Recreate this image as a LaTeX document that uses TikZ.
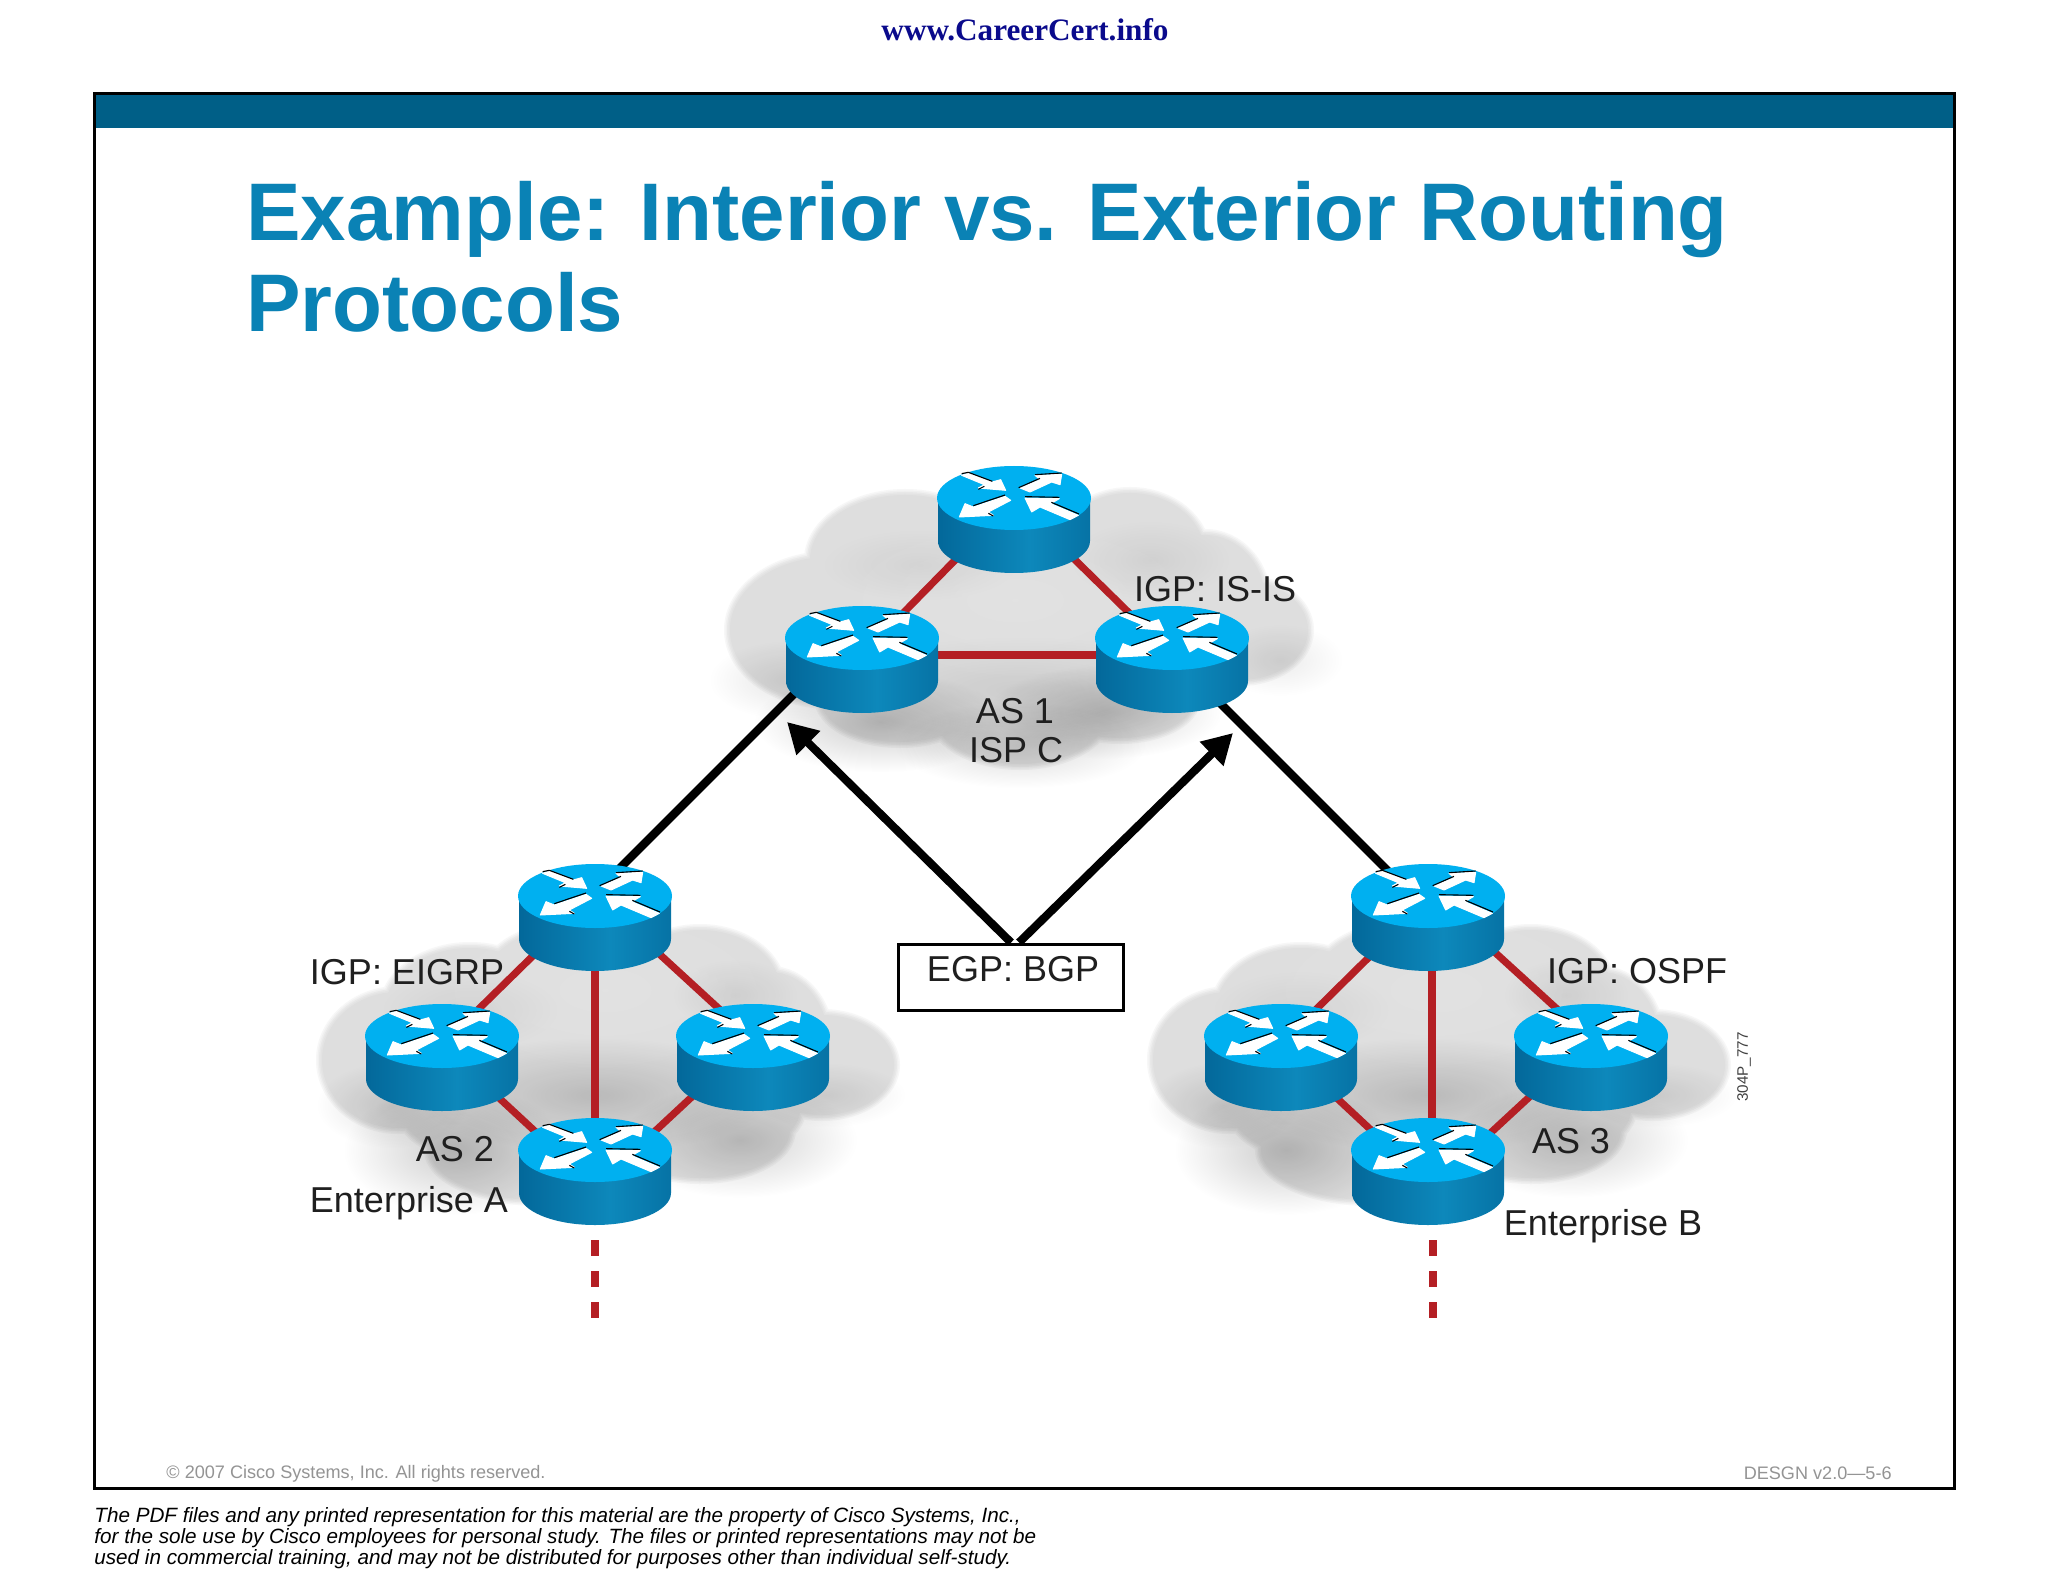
\documentclass[tikz,border=0pt]{standalone}
\usepackage{fontspec}
\setmainfont{Liberation Sans}
\newfontfamily\serifhead{Liberation Serif}
\usetikzlibrary{arrows.meta,fadings}
\definecolor{bandblue}{HTML}{005F87}
\definecolor{titleblue}{HTML}{0A82B5}
\definecolor{headnavy}{HTML}{0A0A8C}
\definecolor{linkred}{HTML}{B41F24}
\definecolor{rtop}{HTML}{00B0F0}
\definecolor{rbA}{HTML}{0C7DAE}
\definecolor{rbB}{HTML}{03689A}
\definecolor{rbC}{HTML}{0D88BB}
\definecolor{rbD}{HTML}{0672A4}
\pgfdeclarehorizontalshading{routerbody}{100bp}{color(0bp)=(rbA);color(25bp)=(rbB);color(55bp)=(rbC);color(85bp)=(rbB);color(100bp)=(rbD)}
\tikzfading[name=softr,inner color=transparent!0,outer color=transparent!100]
\tikzset{
  redlink/.style={draw=linkred,line width=3.6pt},
  reddash/.style={draw=linkred,line width=3.8pt,dash pattern=on 8pt off 7.5pt},
  blacklink/.style={draw=black,line width=4.1pt},
  blackarrow/.style={draw=black,line width=4.1pt,-{Triangle[length=15pt,width=16pt]}},
  lab/.style={font=\fontsize{18}{20}\selectfont,text=black!88,inner sep=0pt,anchor=center},
  small/.style={font=\fontsize{9.05}{11}\selectfont,text=black!42,inner sep=0pt},
  foot/.style={font=\fontsize{10.34}{10.6}\selectfont\itshape,inner sep=0pt,anchor=north west,align=left},
}
\newcommand{\arrowshape}[2]{\filldraw[white,line width=.5pt,line join=round] #1 -- cycle; \draw[black,line width=.55pt] #2;}
\newcommand{\router}[2]{%
  \begin{scope}[shift={(#1,#2+32)}]
    \path[shading=routerbody] (-76,0) -- (-76,43) arc[start angle=180,end angle=0,x radius=76,y radius=32] -- (76,0) -- cycle;
    \fill[rtop] (0,0) ellipse[x radius=77,y radius=32];
    \begin{scope}[xscale=1/3,yscale=1/3,shift={(-272,-143)}]
      \arrowshape{(135,68) -- (207,95) -- (232,88) -- (247,120) -- (165,113) -- (183,103) -- (115,75)}{(115,70) -- (135,66) -- (207,93) (165,117) -- (183,108)}
      \arrowshape{(290,113) -- (350,88) -- (335,75) -- (415,72) -- (410,103) -- (385,95) -- (320,125)}{(286,112) -- (350,84) (335,73) -- (415,68)}
      \arrowshape{(245,138) -- (150,170) -- (125,160) -- (108,200) -- (210,195) -- (195,185) -- (262,150)}{(150,166) -- (245,134) (195,189) -- (210,197)}
      \arrowshape{(305,143) -- (408,145) -- (382,160) -- (465,195) -- (440,208) -- (350,170) -- (325,185)}{(305,139) -- (408,141) (384,156) -- (467,191)}
    \end{scope}
  \end{scope}}
\newcommand{\cloudbase}[1]{%
  \foreach \w/\g in {12/3,9/6,6/9,3/11}{%
    \foreach \c/\d/\a/\b in {#1}{\draw[black!\g!white,line width=\w*0.5pt,fill=black!\g!white] (\c,\d) ellipse[x radius=\a,y radius=\b];}}
  \foreach \c/\d/\a/\b in {#1}{\fill[black!13] (\c,\d) ellipse[x radius=\a,y radius=\b];}}
\newcommand{\softblobs}[1]{\foreach \c/\d/\a/\b/\o in {#1}{\fill[black,opacity=\o,path fading=softr] (\c,\d) ellipse[x radius=\a*1.8,y radius=\b*1.8];}}
\begin{document}
\begin{tikzpicture}[x=0.5pt,y=-0.5pt]
\useasboundingbox (0,0) rectangle (2048,1582);
\fill[white] (0,0) rectangle (2048,1582);
% header
\node[font=\serifhead\bfseries\fontsize{15.6}{17}\selectfont,text=headnavy,inner sep=0pt] (site) at (1025,30) {www.CareerCert.info};
% frame
\fill[bandblue] (94,94) rectangle (1954,128);
\draw[black,line width=1.5pt] (94,94) rectangle (1954,1488);
% title
\node[font=\bfseries\fontsize{40.85}{45}\selectfont,text=titleblue,inner sep=0pt,anchor=west] (t1) at (246,220) {Example: Interior vs. Exterior Routing};
\node[font=\bfseries\fontsize{40.85}{45}\selectfont,text=titleblue,inner sep=0pt,anchor=west] (t2) at (246,302) {Protocols};
% clouds
\begin{scope}
\cloudbase{830/630/100/73,905/560/95/65,1010/560/110/80,1130/555/75/62,1205/600/60/65,1240/630/68/50,1010/660/190/74,1020/708/90/56,900/698/80/44,1120/698/75/40}
\softblobs{880/722/70/28/.2,1105/712/65/26/.19,1020/745/70/24/.15,1020/690/110/30/.08,790/680/45/22/.1,1280/660/35/20/.08,920/565/55/20/.05,1150/560/45/22/.06}
\fill[white,opacity=.12,path fading=softr] (1015,600) ellipse[x radius=200,y radius=90];
\end{scope}
\foreach \s in {0,831}{
\begin{scope}[xshift=\s*0.5pt]
\cloudbase{398/1060/76/68,470/1010/85/62,570/990/90/63,700/990/80/60,770/1040/58/68,822/1065/72/50,600/1110/200/68,600/1040/160/70,540/1150/110/50,700/1130/90/48}
\softblobs{455/1150/62/36/.2,595/1095/100/32/.16,740/1140/65/32/.18,392/1105/42/24/.12,825/1095/45/18/.09,735/995/35/20/.07,470/1010/50/22/.05}
\fill[white,opacity=.12,path fading=softr] (605,990) ellipse[x radius=190,y radius=90];
\end{scope}}
% anchors
\coordinate (isp1) at (1014,500); \coordinate (isp2) at (862,655); \coordinate (isp3) at (1172,655);
\coordinate (ea1) at (595,895); \coordinate (ea2) at (442,1045); \coordinate (ea3) at (753,1040); \coordinate (ea4) at (595,1187);
\coordinate (eb1) at (1432,895); \coordinate (eb2) at (1280,1045); \coordinate (eb3) at (1591,1040); \coordinate (eb4) at (1432,1187);
\coordinate (bl1) at (862,626); \coordinate (bl2) at (595,893);
\coordinate (br1) at (1172,655); \coordinate (br2) at (1425,908);
\coordinate (ea5) at (595,1240); \coordinate (ea6) at (595,1320);
\coordinate (eb5) at (1433,1240); \coordinate (eb6) at (1433,1320);
\coordinate (tipL) at (787,722); \coordinate (tipR) at (1233,733);
% links
\draw[redlink] (isp1) -- (isp2);
\draw[redlink] (isp1) -- (isp3);
\draw[redlink] (isp2) -- (isp3);
\draw[redlink] (ea1) -- (ea2);
\draw[redlink] (ea1) -- (ea3);
\draw[redlink] (ea4) -- (ea2);
\draw[redlink] (ea4) -- (ea3);
\draw[redlink] (595,900) -- (595,1150);
\draw[redlink] (eb1) -- (eb2);
\draw[redlink] (eb1) -- (eb3);
\draw[redlink] (eb4) -- (eb2);
\draw[redlink] (eb4) -- (eb3);
\draw[redlink] (1432,900) -- (1432,1150);
\draw[reddash] (ea5) -- (ea6);
\draw[reddash] (eb5) -- (eb6);
\draw[blacklink] (bl1) -- (bl2);
\draw[blacklink] (br1) -- (br2);
% routers
\router{1014}{466}
\router{862}{606}
\router{1172}{606}
\router{595}{864}
\router{442}{1004}
\router{753}{1004}
\router{595}{1118}
\router{1428}{864}
\router{1281}{1004}
\router{1591}{1004}
\router{1428}{1118}
% EGP box and arrows
\node[lab,draw=black,line width=1.5pt,fill=white,minimum width=112.5pt,minimum height=33pt] (egp) at (1011,977) {};
\node[lab] (egpt) at (1013,969) {EGP: BGP};
\coordinate (egpL) at ([xshift=0pt]egp.north);
\coordinate (egpR) at ([xshift=4pt]egp.north);
\draw[blackarrow] (egpL) -- (tipL);
\draw[blackarrow] (egpR) -- (tipR);
% labels
\node[lab] (l1) at (1215,589) {IGP: IS-IS};
\node[lab] (l2) at (1015,711) {AS 1};
\node[lab] (l3) at (1016,750) {ISP C};
\node[lab] (l4) at (407,972) {IGP: EIGRP};
\node[lab] (l5) at (455,1149) {AS 2};
\node[lab] (l6) at (409,1203) {Enterprise A};
\node[lab] (l7) at (1637,971) {IGP: OSPF};
\node[lab] (l8) at (1571,1141) {AS 3};
\node[lab] (l9) at (1603,1226) {Enterprise B};
\node[font=\fontsize{7.6}{9}\selectfont,text=black!75,inner sep=0pt,rotate=90] (id) at (1744,1067) {304P\_777};
% footer
\node[small,anchor=west] (c1) at (166,1474) {© 2007 Cisco Systems, Inc. All rights reserved.};
\node[small,anchor=east] (c2) at (1892,1473) {DESGN v2.0—5-6};
\node[foot] (f) at (94,1507) {The PDF files and any printed representation for this material are the property of Cisco Systems, Inc.,\\for the sole use by Cisco employees for personal study. The files or printed representations may not be\\used in commercial training, and may not be distributed for purposes other than individual self-study.};
\end{tikzpicture}
\end{document}
